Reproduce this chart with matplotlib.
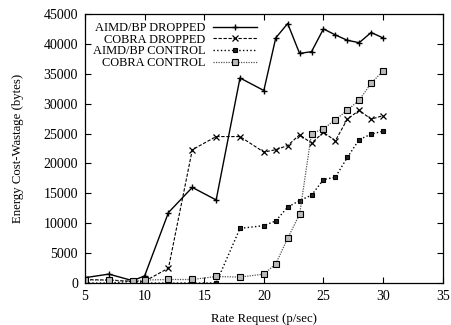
import matplotlib
matplotlib.use('Agg')
import matplotlib.pyplot as plt

plt.rcParams['font.family'] = ['Liberation Serif', 'DejaVu Serif']
plt.rcParams['font.size'] = 9

# rate request (p/sec)
rate = [5, 7, 9, 10, 12, 14, 16, 18, 20, 21, 22, 23, 24, 25, 26, 27, 28, 29, 30]

aimd_dropped = [900, 1500, 400, 1200, 11800, 16000, 13900, 34300, 32200, 41000,
                43400, 38400, 38700, 42500, 41500, 40600, 40200, 41900, 41000]
cobra_dropped = [600, 500, 300, 300, 2500, 22300, 24500, 24500, 21900, 22300,
                 23000, 24800, 23400, 25200, 23800, 27400, 28900, 27400, 28000]
aimd_control = [0, 0, 300, 0, 0, 0, 0, 9150, 9600, 10400,
                12700, 13800, 14700, 17300, 17700, 21000, 24000, 24900, 25400]
cobra_control = [500, 500, 300, 500, 600, 600, 1100, 1000, 1500, 3200,
                 7500, 11500, 25000, 25800, 27300, 28900, 30600, 33400, 35500]

labels = ['AIMD/BP DROPPED', 'COBRA DROPPED', 'AIMD/BP CONTROL', 'COBRA CONTROL']

fig = plt.figure(figsize=(4.51, 3.25), dpi=100)
ax = fig.add_axes([0.1885, 0.129, 0.793, 0.828])

ax.plot(rate, aimd_dropped, '-', color='black', lw=1.0, marker='+', ms=4, mew=1.0, label=labels[0])
ax.plot(rate, cobra_dropped, '--', color='black', lw=0.8, dashes=(3, 1.5), marker='x', ms=4, mew=0.9, label=labels[1])
ax.plot(rate, aimd_control, ':', color='black', lw=1.0, marker='s', ms=3.5, mfc='#222222', mew=0.8, label=labels[2])
ax.plot(rate, cobra_control, ':', color='#555555', lw=0.9, dashes=(1, 1), marker='s', ms=4, mfc='#bbbbbb', mec='black', mew=0.8, label=labels[3])

ax.set_xlim(5, 35)
ax.set_ylim(0, 45000)
ax.set_xticks(range(5, 36, 5))
ax.set_yticks(range(0, 45001, 5000))
ax.tick_params(direction='in', top=True, right=True, length=4, width=0.8, labelsize=10, pad=5)
for s in ax.spines.values():
    s.set_linewidth(0.9)

ax.set_xlabel('Rate Request (p/sec)', fontsize=9.2, labelpad=7)
ax.set_ylabel('Energy Cost-Wastage (bytes)', fontsize=9.2, labelpad=14)

leg = ax.legend(loc='upper left', markerfirst=False, frameon=False, handlelength=3.6,
                handletextpad=0.6, labelspacing=-0.03, borderaxespad=0.25, fontsize=8.9,
                bbox_to_anchor=(0.0, 1.0))

fig.savefig('out.png', dpi=100)
